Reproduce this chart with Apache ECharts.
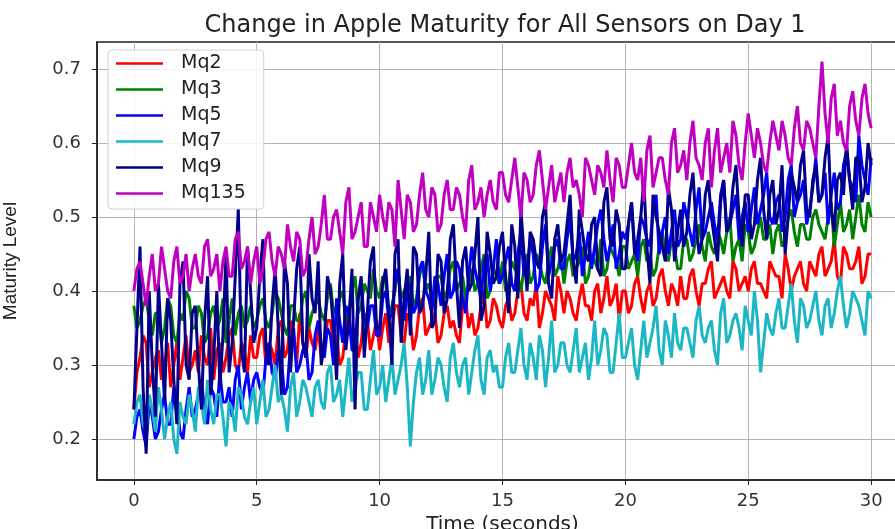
<!DOCTYPE html>
<html>
<head>
<meta charset="utf-8">
<script src="https://cdn.jsdelivr.net/npm/echarts@6/dist/echarts.min.js"></script>
<style>
  html, body { margin: 0; padding: 0; background: #fff; }
  #container { width: 895px; height: 529px; }
</style>
</head>
<body>
<div id="container"></div>
<script>
// readings every 0.125 s: the main arrays hold t = 0, 0.25, 0.5 ...
// and the *Mid arrays hold the readings in between (t = 0.125, 0.375 ...)
var step = 0.125;

var mq2 = [
  0.24, 0.31, 0.33, 0.29, 0.32, 0.30, 0.27, 0.33, 0.31, 0.29,
  0.32, 0.34, 0.30, 0.28, 0.33, 0.31, 0.35, 0.29, 0.32, 0.34,
  0.31, 0.35, 0.33, 0.30, 0.36, 0.32, 0.34, 0.37, 0.31, 0.33,
  0.35, 0.32, 0.36, 0.34, 0.31, 0.37, 0.35, 0.33, 0.36, 0.34,
  0.32, 0.37, 0.35, 0.38, 0.33, 0.36, 0.34, 0.39, 0.35, 0.37,
  0.34, 0.38, 0.36, 0.33, 0.39, 0.37, 0.35, 0.40, 0.36, 0.38,
  0.35, 0.39, 0.37, 0.41, 0.36, 0.38, 0.35, 0.40, 0.38, 0.42,
  0.37, 0.39, 0.36, 0.41, 0.38, 0.40, 0.37, 0.42, 0.39, 0.36,
  0.40, 0.38, 0.42, 0.37, 0.41, 0.39, 0.43, 0.38, 0.40, 0.42,
  0.39, 0.43, 0.38, 0.41, 0.44, 0.40, 0.42, 0.39, 0.43, 0.41,
  0.40, 0.44, 0.41, 0.39, 0.43, 0.42, 0.45, 0.40, 0.43, 0.41,
  0.44, 0.42, 0.46, 0.43, 0.47, 0.41, 0.45, 0.43, 0.46, 0.42,
  0.45
];
var mq2Mid = [
  0.29, 0.34, 0.27, 0.31, 0.28, 0.33, 0.30, 0.28, 0.34, 0.30,
  0.29, 0.31, 0.35, 0.32, 0.29, 0.34, 0.30, 0.33, 0.29, 0.31,
  0.34, 0.30, 0.32, 0.35, 0.31, 0.36, 0.30, 0.33, 0.35, 0.32,
  0.31, 0.36, 0.33, 0.30, 0.35, 0.33, 0.31, 0.37, 0.32, 0.36,
  0.35, 0.33, 0.38, 0.34, 0.37, 0.32, 0.38, 0.34, 0.36, 0.33,
  0.37, 0.35, 0.34, 0.38, 0.35, 0.34, 0.38, 0.35, 0.39, 0.36,
  0.38, 0.36, 0.40, 0.37, 0.39, 0.41, 0.37, 0.39, 0.36, 0.40,
  0.40, 0.37, 0.39, 0.38, 0.36, 0.41, 0.39, 0.38, 0.41, 0.40,
  0.37, 0.41, 0.39, 0.40, 0.38, 0.42, 0.40, 0.41, 0.38, 0.39,
  0.42, 0.40, 0.41, 0.43, 0.39, 0.41, 0.40, 0.44, 0.40, 0.42,
  0.43, 0.41, 0.40, 0.44, 0.42, 0.39, 0.43, 0.42, 0.44, 0.40,
  0.43, 0.45, 0.42, 0.44, 0.42, 0.46, 0.43, 0.44, 0.41, 0.45
];
var mq3 = [
  0.38, 0.36, 0.39, 0.34, 0.37, 0.35, 0.38, 0.33, 0.36, 0.39,
  0.35, 0.37, 0.34, 0.38, 0.36, 0.33, 0.39, 0.37, 0.35, 0.38,
  0.36, 0.39, 0.35, 0.40, 0.37, 0.34, 0.38, 0.36, 0.40, 0.37,
  0.39, 0.36, 0.41, 0.38, 0.40, 0.37, 0.42, 0.38, 0.40, 0.43,
  0.39, 0.41, 0.38, 0.43, 0.40, 0.42, 0.39, 0.44, 0.41, 0.38,
  0.42, 0.40, 0.44, 0.41, 0.39, 0.43, 0.41, 0.45, 0.40, 0.42,
  0.44, 0.41, 0.43, 0.40, 0.45, 0.42, 0.44, 0.41, 0.46, 0.43,
  0.41, 0.45, 0.43, 0.46, 0.42, 0.44, 0.47, 0.43, 0.45, 0.42,
  0.46, 0.44, 0.42, 0.47, 0.45, 0.43, 0.48, 0.44, 0.46, 0.43,
  0.47, 0.45, 0.49, 0.44, 0.46, 0.48, 0.45, 0.50, 0.46, 0.44,
  0.48, 0.46, 0.50, 0.47, 0.45, 0.49, 0.47, 0.51, 0.46, 0.49,
  0.47, 0.51, 0.48, 0.50, 0.46, 0.52, 0.49, 0.47, 0.53, 0.48,
  0.50
];
var mq3Mid = [
  0.35, 0.38, 0.36, 0.37, 0.33, 0.39, 0.34, 0.37, 0.40, 0.35,
  0.38, 0.33, 0.37, 0.35, 0.39, 0.36, 0.34, 0.38, 0.36, 0.35,
  0.38, 0.36, 0.37, 0.39, 0.35, 0.38, 0.36, 0.39, 0.35, 0.38,
  0.37, 0.39, 0.37, 0.39, 0.36, 0.40, 0.37, 0.41, 0.39, 0.40,
  0.42, 0.37, 0.40, 0.39, 0.41, 0.38, 0.42, 0.40, 0.39, 0.42,
  0.39, 0.43, 0.40, 0.42, 0.41, 0.40, 0.43, 0.39, 0.43, 0.41,
  0.40, 0.44, 0.42, 0.43, 0.41, 0.45, 0.42, 0.44, 0.42, 0.45,
  0.44, 0.42, 0.44, 0.41, 0.45, 0.43, 0.42, 0.46, 0.44, 0.46,
  0.43, 0.45, 0.46, 0.44, 0.42, 0.46, 0.45, 0.47, 0.43, 0.47,
  0.44, 0.47, 0.46, 0.48, 0.45, 0.47, 0.48, 0.44, 0.47, 0.49,
  0.45, 0.48, 0.47, 0.49, 0.48, 0.46, 0.50, 0.48, 0.49, 0.47,
  0.50, 0.49, 0.47, 0.52, 0.49, 0.48, 0.51, 0.50, 0.49, 0.52
];
var mq5 = [
  0.20, 0.24, 0.19, 0.23, 0.21, 0.26, 0.22, 0.25, 0.20, 0.27,
  0.24, 0.28, 0.22, 0.26, 0.29, 0.25, 0.23, 0.30, 0.27, 0.25,
  0.29, 0.26, 0.33, 0.28, 0.31, 0.27, 0.35, 0.30, 0.33, 0.29,
  0.36, 0.31, 0.34, 0.39, 0.33, 0.37, 0.32, 0.41, 0.35, 0.38,
  0.34, 0.40, 0.37, 0.43, 0.36, 0.41, 0.38, 0.44, 0.39, 0.42,
  0.38, 0.45, 0.40, 0.43, 0.37, 0.46, 0.41, 0.44, 0.40, 0.47,
  0.42, 0.46, 0.40, 0.48, 0.43, 0.45, 0.41, 0.49, 0.44, 0.47,
  0.43, 0.50, 0.45, 0.42, 0.48, 0.46, 0.51, 0.44, 0.49, 0.45,
  0.47, 0.52, 0.44, 0.49, 0.46, 0.53, 0.48, 0.45, 0.51, 0.47,
  0.50, 0.46, 0.54, 0.48, 0.52, 0.47, 0.55, 0.49, 0.53, 0.50,
  0.48, 0.54, 0.51, 0.56, 0.49, 0.53, 0.50, 0.57, 0.52, 0.55,
  0.51, 0.58, 0.53, 0.49, 0.56, 0.52, 0.59, 0.54, 0.61, 0.55,
  0.58
];
var mq5Mid = [
  0.23, 0.21, 0.25, 0.20, 0.24, 0.22, 0.27, 0.21, 0.24, 0.23,
  0.26, 0.24, 0.27, 0.23, 0.25, 0.27, 0.28, 0.24, 0.29, 0.28,
  0.27, 0.31, 0.29, 0.32, 0.26, 0.33, 0.29, 0.32, 0.28, 0.34,
  0.33, 0.35, 0.30, 0.36, 0.38, 0.32, 0.39, 0.36, 0.38, 0.34,
  0.39, 0.36, 0.41, 0.38, 0.40, 0.37, 0.43, 0.40, 0.37, 0.41,
  0.42, 0.39, 0.44, 0.39, 0.42, 0.43, 0.39, 0.45, 0.43, 0.41,
  0.44, 0.41, 0.45, 0.42, 0.47, 0.40, 0.46, 0.42, 0.46, 0.43,
  0.47, 0.44, 0.48, 0.45, 0.43, 0.49, 0.47, 0.46, 0.43, 0.48,
  0.49, 0.46, 0.50, 0.47, 0.51, 0.45, 0.50, 0.48, 0.46, 0.52,
  0.48, 0.51, 0.47, 0.50, 0.49, 0.53, 0.48, 0.51, 0.47, 0.52,
  0.51, 0.49, 0.53, 0.50, 0.52, 0.48, 0.55, 0.50, 0.53, 0.49,
  0.54, 0.52, 0.56, 0.53, 0.51, 0.57, 0.55, 0.52, 0.57, 0.53
];
var mq7 = [
  0.22, 0.26, 0.21, 0.24, 0.27, 0.20, 0.25, 0.18, 0.23, 0.26,
  0.21, 0.25, 0.28, 0.22, 0.26, 0.19, 0.24, 0.27, 0.23, 0.25,
  0.22, 0.28, 0.24, 0.30, 0.26, 0.21, 0.29, 0.25, 0.27, 0.23,
  0.28, 0.24, 0.30, 0.26, 0.23, 0.31, 0.27, 0.29, 0.24, 0.32,
  0.27, 0.25, 0.31, 0.28, 0.33, 0.19, 0.29, 0.26, 0.32, 0.28,
  0.30, 0.25, 0.33, 0.27, 0.31, 0.29, 0.34, 0.26, 0.32, 0.30,
  0.27, 0.33, 0.29, 0.35, 0.28, 0.31, 0.34, 0.27, 0.36, 0.30,
  0.33, 0.29, 0.35, 0.31, 0.28, 0.36, 0.32, 0.34, 0.29, 0.37,
  0.31, 0.35, 0.28, 0.36, 0.33, 0.38, 0.30, 0.34, 0.37, 0.32,
  0.35, 0.31, 0.38, 0.33, 0.36, 0.30, 0.39, 0.34, 0.37, 0.32,
  0.36, 0.40, 0.29, 0.37, 0.34, 0.39, 0.35, 0.41, 0.33, 0.38,
  0.36, 0.40, 0.34, 0.39, 0.37, 0.42, 0.35, 0.40, 0.38, 0.34,
  0.39
];
var mq7Mid = [
  0.25, 0.22, 0.26, 0.21, 0.24, 0.23, 0.20, 0.25, 0.22, 0.24,
  0.27, 0.22, 0.24, 0.26, 0.23, 0.25, 0.21, 0.26, 0.22, 0.27,
  0.25, 0.23, 0.27, 0.25, 0.24, 0.27, 0.23, 0.28, 0.25, 0.27,
  0.25, 0.29, 0.25, 0.28, 0.27, 0.25, 0.29, 0.24, 0.28, 0.26,
  0.30, 0.28, 0.26, 0.30, 0.27, 0.25, 0.31, 0.28, 0.26, 0.31,
  0.27, 0.31, 0.29, 0.30, 0.26, 0.32, 0.28, 0.31, 0.29, 0.27,
  0.31, 0.29, 0.32, 0.30, 0.33, 0.28, 0.32, 0.31, 0.29, 0.33,
  0.30, 0.32, 0.29, 0.33, 0.31, 0.30, 0.35, 0.29, 0.33, 0.31,
  0.33, 0.30, 0.32, 0.31, 0.35, 0.32, 0.36, 0.31, 0.33, 0.35,
  0.33, 0.36, 0.34, 0.35, 0.32, 0.37, 0.33, 0.36, 0.35, 0.38,
  0.34, 0.36, 0.33, 0.35, 0.37, 0.35, 0.38, 0.36, 0.39, 0.35,
  0.38, 0.36, 0.38, 0.35, 0.40, 0.38, 0.37, 0.39, 0.36, 0.40
];
var mq9 = [
  0.24, 0.46, 0.18, 0.30, 0.41, 0.25, 0.36, 0.22, 0.44, 0.28,
  0.38, 0.24, 0.42, 0.31, 0.27, 0.45, 0.33, 0.51, 0.29, 0.40,
  0.35, 0.47, 0.30, 0.43, 0.26, 0.41, 0.36, 0.46, 0.31, 0.39,
  0.44, 0.33, 0.40, 0.28, 0.45, 0.36, 0.24, 0.42, 0.37, 0.46,
  0.35, 0.43, 0.30, 0.47, 0.39, 0.34, 0.45, 0.38, 0.48, 0.36,
  0.44, 0.39, 0.49, 0.35, 0.46, 0.41, 0.50, 0.38, 0.45, 0.42,
  0.48, 0.37, 0.46, 0.51, 0.40, 0.47, 0.43, 0.52, 0.39, 0.49,
  0.45, 0.53, 0.41, 0.48, 0.44, 0.50, 0.42, 0.54, 0.46, 0.49,
  0.43, 0.52, 0.47, 0.55, 0.41, 0.50, 0.46, 0.54, 0.44, 0.51,
  0.48, 0.56, 0.45, 0.53, 0.50, 0.44, 0.55, 0.49, 0.57, 0.46,
  0.53, 0.49, 0.58, 0.47, 0.55, 0.51, 0.45, 0.56, 0.52, 0.59,
  0.50, 0.57, 0.53, 0.61, 0.48, 0.56, 0.60, 0.51, 0.58, 0.54,
  0.57
];
var mq9Mid = [
  0.35, 0.27, 0.40, 0.23, 0.33, 0.39, 0.28, 0.41, 0.30, 0.37,
  0.30, 0.36, 0.26, 0.40, 0.34, 0.29, 0.42, 0.32, 0.46, 0.33,
  0.42, 0.32, 0.38, 0.35, 0.44, 0.29, 0.43, 0.33, 0.45, 0.37,
  0.30, 0.42, 0.35, 0.41, 0.32, 0.43, 0.39, 0.31, 0.44, 0.35,
  0.41, 0.37, 0.45, 0.33, 0.43, 0.46, 0.37, 0.42, 0.35, 0.45,
  0.37, 0.47, 0.41, 0.44, 0.40, 0.45, 0.36, 0.48, 0.41, 0.46,
  0.42, 0.49, 0.39, 0.45, 0.48, 0.44, 0.50, 0.41, 0.47, 0.44,
  0.49, 0.44, 0.51, 0.45, 0.49, 0.43, 0.52, 0.47, 0.51, 0.43,
  0.49, 0.45, 0.50, 0.46, 0.53, 0.48, 0.44, 0.51, 0.48, 0.46,
  0.53, 0.49, 0.47, 0.55, 0.47, 0.52, 0.48, 0.54, 0.50, 0.53,
  0.47, 0.55, 0.51, 0.53, 0.49, 0.57, 0.50, 0.54, 0.57, 0.51,
  0.55, 0.52, 0.58, 0.51, 0.55, 0.53, 0.55, 0.58, 0.52, 0.60
];
var mq135 = [
  0.40, 0.44, 0.38, 0.45, 0.41, 0.43, 0.39, 0.46, 0.42, 0.40,
  0.45, 0.41, 0.47, 0.43, 0.40, 0.46, 0.42, 0.48, 0.44, 0.41,
  0.46, 0.43, 0.48, 0.42, 0.45, 0.49, 0.44, 0.47, 0.43, 0.50,
  0.46, 0.53, 0.47, 0.51, 0.45, 0.54, 0.48, 0.52, 0.46, 0.50,
  0.53, 0.48, 0.51, 0.55, 0.47, 0.52, 0.49, 0.56, 0.50, 0.53,
  0.49, 0.55, 0.51, 0.53, 0.48, 0.57, 0.52, 0.50, 0.55, 0.51,
  0.56, 0.52, 0.58, 0.50, 0.55, 0.53, 0.59, 0.51, 0.57, 0.54,
  0.52, 0.58, 0.55, 0.50, 0.57, 0.53, 0.56, 0.59, 0.52, 0.57,
  0.54, 0.60, 0.55, 0.52, 0.61, 0.56, 0.58, 0.53, 0.62, 0.57,
  0.55, 0.63, 0.57, 0.60, 0.54, 0.62, 0.58, 0.56, 0.61, 0.55,
  0.64, 0.58, 0.60, 0.56, 0.63, 0.59, 0.61, 0.57, 0.65, 0.59,
  0.62, 0.58, 0.71, 0.60, 0.68, 0.63, 0.59, 0.67, 0.61, 0.68,
  0.62
];
var mq135Mid = [
  0.43, 0.41, 0.42, 0.40, 0.46, 0.40, 0.44, 0.41, 0.45, 0.43,
  0.42, 0.46, 0.42, 0.45, 0.44, 0.42, 0.47, 0.43, 0.46, 0.44,
  0.41, 0.47, 0.44, 0.46, 0.43, 0.46, 0.48, 0.42, 0.47, 0.45,
  0.49, 0.47, 0.50, 0.48, 0.52, 0.47, 0.50, 0.46, 0.52, 0.48,
  0.50, 0.52, 0.46, 0.51, 0.53, 0.48, 0.53, 0.51, 0.54, 0.48,
  0.53, 0.51, 0.54, 0.50, 0.55, 0.51, 0.54, 0.53, 0.52, 0.56,
  0.53, 0.55, 0.54, 0.56, 0.52, 0.57, 0.55, 0.54, 0.52, 0.56,
  0.56, 0.54, 0.53, 0.58, 0.55, 0.57, 0.54, 0.55, 0.58, 0.54,
  0.57, 0.56, 0.58, 0.59, 0.54, 0.58, 0.55, 0.60, 0.56, 0.59,
  0.60, 0.58, 0.55, 0.62, 0.59, 0.56, 0.60, 0.63, 0.57, 0.60,
  0.61, 0.62, 0.57, 0.60, 0.61, 0.63, 0.58, 0.62, 0.60, 0.63,
  0.60, 0.65, 0.64, 0.66, 0.61, 0.60, 0.65, 0.63, 0.66, 0.64
];

var names = ['Mq2', 'Mq3', 'Mq5', 'Mq7', 'Mq9', 'Mq135'];
var colors = ['#ff0000', '#008000', '#0000ff', '#1cb6c4', '#00008b', '#c000c0'];
var xTicks = [0, 5, 10, 15, 20, 25, 30];
var yTicks = [0.2, 0.3, 0.4, 0.5, 0.6, 0.7];

var mainData = [mq2, mq3, mq5, mq7, mq9, mq135];
var midData = [mq2Mid, mq3Mid, mq5Mid, mq7Mid, mq9Mid, mq135Mid];

// merge the two reading sets into [time, value] pairs
function merge(main, mid) {
  var out = [];
  for (var i = 0; i < main.length; i++) {
    out.push([i * 2 * step, main[i]]);
    if (i < mid.length) out.push([(i * 2 + 1) * step, mid[i]]);
  }
  return out;
}

var series = mainData.map(function (vals, k) {
  return {
    name: names[k],
    type: 'line',
    data: merge(vals, midData[k]),
    symbol: 'none',
    z: 2 + k,
    lineStyle: { width: 3, color: colors[k] },
    itemStyle: { color: colors[k] }
  };
});

var dom = document.getElementById('container');
var myChart = echarts.init(dom, null, { renderer: 'canvas' });
var option = {
  backgroundColor: '#ffffff',
  animation: false,
  title: {
    text: 'Change in Apple Maturity for All Sensors on Day 1',
    left: 500,
    textAlign: 'center',
    top: 9,
    textStyle: {
      fontFamily: 'DejaVu Sans',
      fontWeight: 'normal',
      fontSize: 24,
      color: '#222'
    }
  },
  legend: {
    orient: 'vertical',
    left: 108,
    top: 50,
    padding: [4, 18, 6, 8],
    icon: 'rect',
    itemWidth: 47,
    itemHeight: 2.5,
    itemGap: 7,
    backgroundColor: 'rgba(255,255,255,0.85)',
    borderColor: '#d0d0d0',
    borderWidth: 1,
    borderRadius: 4,
    textStyle: {
      fontFamily: 'DejaVu Sans',
      fontSize: 19,
      lineHeight: 18,
      color: '#222',
      padding: [0, 0, 0, 13]
    },
    data: names
  },
  grid: {
    left: 97,
    right: -13,
    top: 42,
    bottom: 49,
    outerBoundsMode: 'none',
    containLabel: false,
    show: true,
    borderColor: '#222',
    borderWidth: 1.5,
    backgroundColor: 'transparent'
  },
  xAxis: {
    type: 'value',
    min: -1.5,
    max: 31.5,
    name: 'Time (seconds)',
    nameLocation: 'middle',
    nameGap: 32,
    nameTextStyle: { fontFamily: 'DejaVu Sans', fontSize: 20, color: '#222' },
    axisLine: { show: true, onZero: false, lineStyle: { color: '#222', width: 1.5 } },
    axisTick: { show: true, length: 5, lineStyle: { color: '#222' }, customValues: xTicks },
    axisLabel: {
      customValues: xTicks,
      margin: 12,
      fontFamily: 'DejaVu Sans',
      fontSize: 18,
      color: '#333'
    },
    splitLine: { show: true, lineStyle: { color: '#b4b4b4', width: 1 }, customValues: xTicks }
  },
  yAxis: {
    type: 'value',
    min: 0.1446,
    max: 0.7365,
    name: 'Maturity Level',
    nameLocation: 'middle',
    nameRotate: 90,
    nameGap: 77,
    nameTextStyle: { fontFamily: 'Liberation Sans', fontSize: 19, color: '#222' },
    axisLine: { show: true, onZero: false, lineStyle: { color: '#222', width: 1.5 } },
    axisTick: { show: true, length: 5, lineStyle: { color: '#222' }, customValues: yTicks },
    axisLabel: {
      customValues: yTicks,
      margin: 16,
      fontFamily: 'DejaVu Sans',
      fontSize: 18,
      color: '#333',
      formatter: function (v) { return v.toFixed(1); }
    },
    splitLine: { show: true, lineStyle: { color: '#b4b4b4', width: 1 }, customValues: yTicks }
  },
  series: series
};
myChart.setOption(option, true);
</script>
</body>
</html>
